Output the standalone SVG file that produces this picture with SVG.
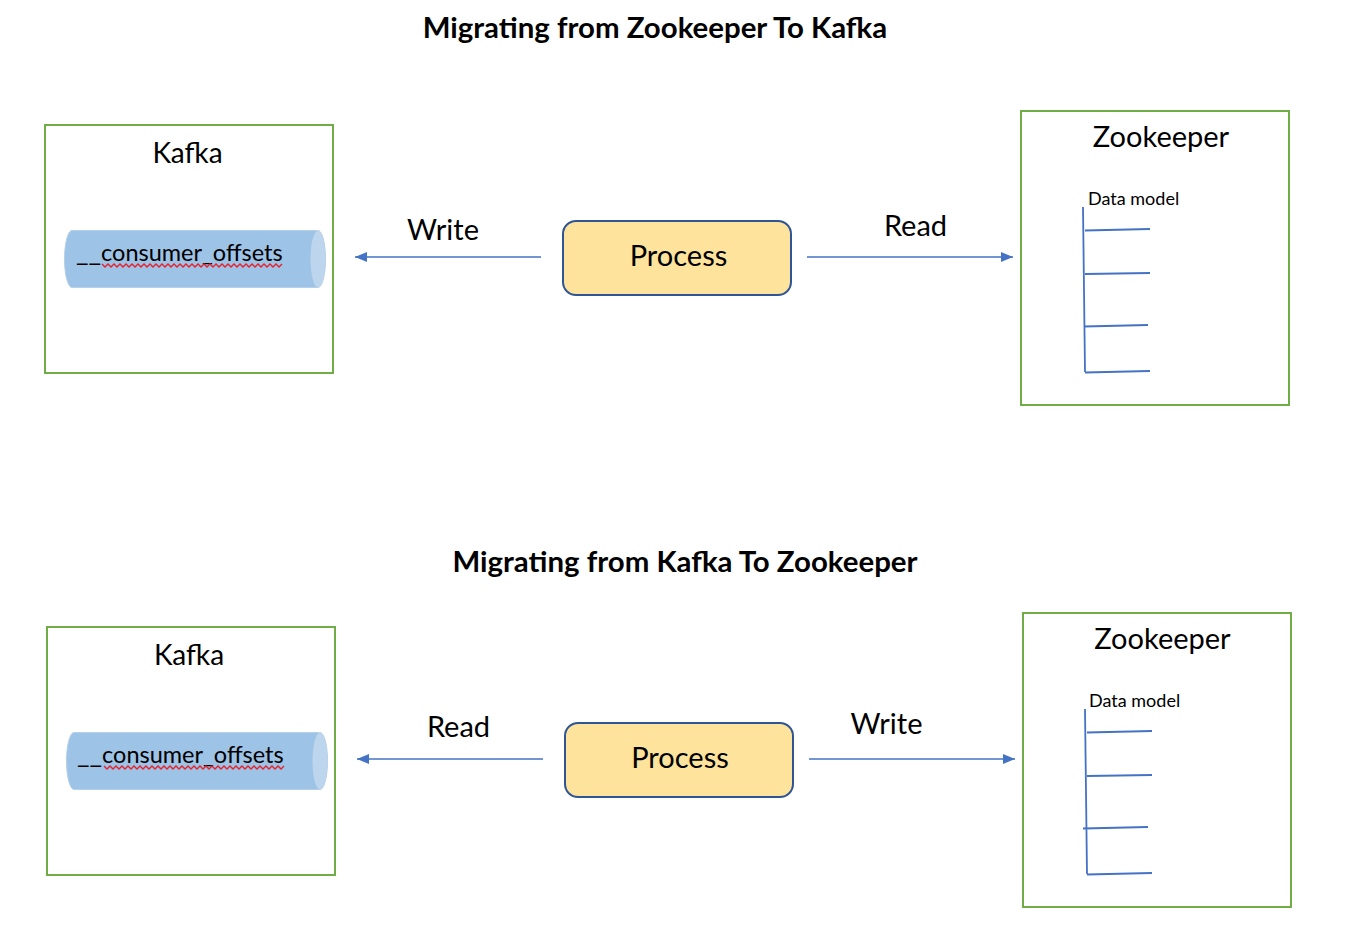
<svg xmlns="http://www.w3.org/2000/svg" width="1346" height="926" viewBox="0 0 1346 926">
<style>
text{font-family:Lato,"Noto Sans","Liberation Sans",sans-serif;fill:#000}
.title{font-size:29.4px;font-weight:700;text-anchor:middle}
.h{font-size:29px;text-anchor:middle}
.k{font-size:28px;text-anchor:middle}
.lbl{font-size:29px;text-anchor:middle}
.off{font-size:23.5px}
.us{font-size:27.3px}
.dm{font-size:18px}
.box{fill:#fff;stroke:#70ad47;stroke-width:2}
.proc{fill:#fde39b;stroke:#2f5597;stroke-width:2}
.tube{fill:#9dc3e6;stroke:#b4d0ea;stroke-width:1}
.cap{fill:#bdd5ed}
.squig{fill:none;stroke:#e8202a;stroke-width:1.4}
.tree{fill:none;stroke:#4472c4;stroke-width:1.8}
.conn{fill:none;stroke:#4472c4;stroke-width:1.7}
</style>
<defs>
<marker id="ah" markerUnits="userSpaceOnUse" markerWidth="12" markerHeight="10" refX="12" refY="5" orient="auto-start-reverse"><path d="M0 0L12 5L0 10Z" fill="#4472c4"/></marker>
<path id="sq" d="M0 0l3 3 3-3 3 3 3-3 3 3 3-3 3 3 3-3 3 3 3-3 3 3 3-3 3 3 3-3 3 3 3-3 3 3 3-3 3 3 3-3 3 3 3-3 3 3 3-3 3 3 3-3 3 3 3-3 3 3 3-3 3 3 3-3 3 3 3-3 3 3 3-3 3 3 3-3 3 3 3-3 3 3 3-3 3 3 3-3 3 3 3-3 3 3 3-3 3 3 3-3 3 3 3-3 3 3 3-3 3 3 3-3 3 3 3-3 3 3 3-3"/>
</defs>
<text class="title" x="655" y="38">Migrating from Zookeeper To Kafka</text>
<text class="title" x="685" y="572">Migrating from Kafka To Zookeeper</text>

<g id="kafka-top">
<rect class="box" x="45" y="125" width="288" height="248"/>
<text class="k" x="187.500" y="163">Kafka</text>
<path class="tube" d="M72 230.500H318C322 230.500 325.500 243 325.500 259C325.500 275 322 287.500 318 287.500H72C68 287.500 64.500 275 64.500 259C64.500 243 68 230.500 72 230.500Z"/>
<ellipse class="cap" cx="318" cy="259" rx="7.500" ry="28.500"/>
<text class="off" x="76" y="261"><tspan class="us">__</tspan>consumer_offsets</text>
<use href="#sq" class="squig" x="102" y="264"/>
</g>
<g id="process-top">
<rect class="proc" x="563" y="221" width="228" height="74" rx="13"/>
<text class="lbl" x="678.500" y="266">Process</text>
</g>
<g id="zookeeper-top">
<rect class="box" x="1021" y="111" width="268" height="294"/>
<text class="h" x="1161" y="147">Zookeeper</text>
<text class="dm" x="1088" y="205">Data model</text>
<path class="tree" d="M1083 207L1085 372M1085 230.500L1150 229M1085 274L1150 273M1084 326.500L1148 325M1085 372.500L1150 371"/>
</g>
<g id="kafka-bottom">
<rect class="box" x="47" y="627" width="288" height="248"/>
<text class="k" x="189" y="665">Kafka</text>
<path class="tube" d="M74 732.500H320C324 732.500 327.500 745 327.500 761C327.500 777 324 789.500 320 789.500H74C70 789.500 66.500 777 66.500 761C66.500 745 70 732.500 74 732.500Z"/>
<ellipse class="cap" cx="320" cy="761" rx="7.500" ry="28.500"/>
<text class="off" x="77" y="763"><tspan class="us">__</tspan>consumer_offsets</text>
<use href="#sq" class="squig" x="104" y="766"/>
</g>
<g id="process-bottom">
<rect class="proc" x="565" y="723" width="228" height="74" rx="13"/>
<text class="lbl" x="680" y="768">Process</text>
</g>
<g id="zookeeper-bottom">
<rect class="box" x="1023" y="613" width="268" height="294"/>
<text class="h" x="1162.500" y="649">Zookeeper</text>
<text class="dm" x="1089" y="707">Data model</text>
<path class="tree" d="M1085 709L1087 874M1087 732.500L1152 731M1087 776L1152 775M1083 828.500L1148 827M1087 874.500L1152 873"/>
</g>
<g id="connectors">
<path class="conn" d="M541 257H355" marker-end="url(#ah)"/>
<path class="conn" d="M807 257H1013" marker-end="url(#ah)"/>
<path class="conn" d="M543 759H357" marker-end="url(#ah)"/>
<path class="conn" d="M809 759H1015" marker-end="url(#ah)"/>
</g>
<g id="labels">
<text class="lbl" x="443" y="240">Write</text>
<text class="lbl" x="915.500" y="236">Read</text>
<text class="lbl" x="458.500" y="737">Read</text>
<text class="lbl" x="886.500" y="734">Write</text>
</g>
</svg>
